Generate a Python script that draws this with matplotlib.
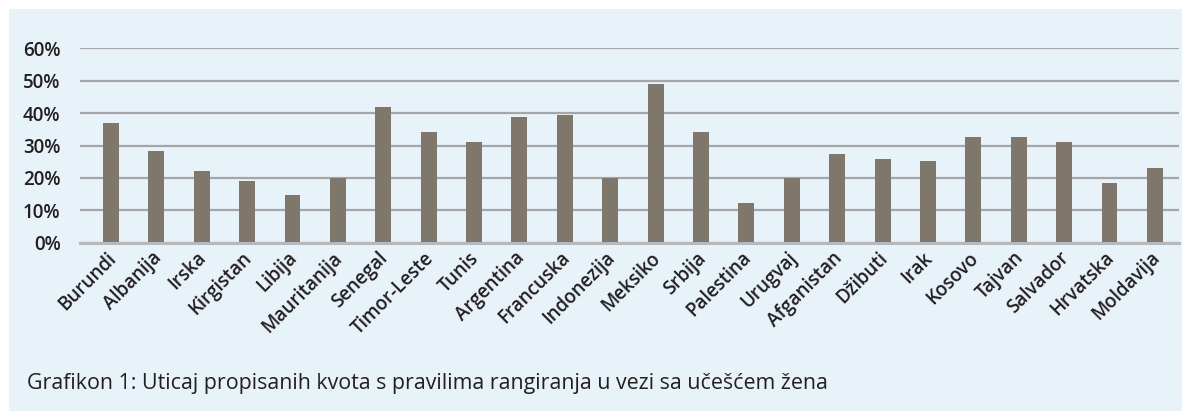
import matplotlib
matplotlib.use("Agg")
import matplotlib.pyplot as plt
from matplotlib.patches import Rectangle
from matplotlib.transforms import ScaledTranslation

# udio zena (%) po zemljama
countries = ["Burundi", "Albanija", "Irska", "Kirgistan", "Libija", "Mauritanija",
             "Senegal", "Timor-Leste", "Tunis", "Argentina", "Francuska", "Indonezija",
             "Meksiko", "Srbija", "Palestina", "Urugvaj", "Afganistan", "Džibuti",
             "Irak", "Kosovo", "Tajvan", "Salvador", "Hrvatska", "Moldavija"]
values = [36.9, 28.3, 22.1, 19.0, 14.7, 20.0,
          41.9, 34.2, 31.1, 38.8, 39.4, 20.0,
          49.0, 34.2, 12.2, 20.0, 27.4, 25.8,
          25.2, 32.6, 32.6, 31.1, 18.4, 23.1]
yticks = [0, 10, 20, 30, 40, 50, 60]
caption = "Grafikon 1: Uticaj propisanih kvota s pravilima rangiranja u vezi sa učešćem žena"

BG = "#e8f2f9"
BAR = "#7f776b"
GRID = "#a6a6a6"
TXT = "#231f20"

W, H = 1182, 412
fig = plt.figure(figsize=(W / 100, H / 100), dpi=100, facecolor="white")
plt.rcParams["font.family"] = ["Open Sans", "DejaVu Sans"]

# light blue panel behind everything
fig.patches.append(Rectangle((9 / W, 1 / H), 1 - 9 / W, (H - 10) / H,
                             transform=fig.transFigure, facecolor=BG,
                             edgecolor="none", zorder=-1))

ax = fig.add_axes([80 / W, 1 - 242.7 / H, 1099 / W, (242.7 - 48.3) / H])
ax.set_zorder(1)
ax.set_facecolor("none")

x = range(len(countries))
ax.bar(x, values, width=0.35, color=BAR, zorder=3)

ax.set_ylim(0, 60)
ax.set_xlim(-0.68, len(countries) - 1 + 0.53)
ax.set_yticks(yticks)
ax.grid(axis="y", color=GRID, linewidth=1.6, zorder=1)
ax.set_axisbelow(True)

for s in ["top", "right", "left"]:
    ax.spines[s].set_visible(False)
ax.spines["bottom"].set_color("#b5b9bd")
ax.spines["bottom"].set_linewidth(2.2)
ax.spines["bottom"].set_zorder(4)

ax.tick_params(axis="both", length=0, colors=TXT)
ax.tick_params(axis="y", pad=14)
ax.set_yticklabels([f"{v}%" for v in yticks], fontweight="semibold", fontsize=13.5)
ax.set_xticks(list(x))
ax.set_xticklabels(countries, rotation=45, ha="right", rotation_mode="anchor",
                   fontsize=13.5, fontweight="semibold", color=TXT)
ax.tick_params(axis="x", pad=4)

# nudge rotated labels a little to the left
shift = ScaledTranslation(-5 / 100, 0, fig.dpi_scale_trans)
for lbl in ax.get_xticklabels():
    lbl.set_transform(lbl.get_transform() + shift)

fig.text(27 / W, 1 - 389 / H, caption, fontsize=15.4, color=TXT, va="baseline", ha="left")

fig.savefig("out.png", dpi=100, facecolor="white")
